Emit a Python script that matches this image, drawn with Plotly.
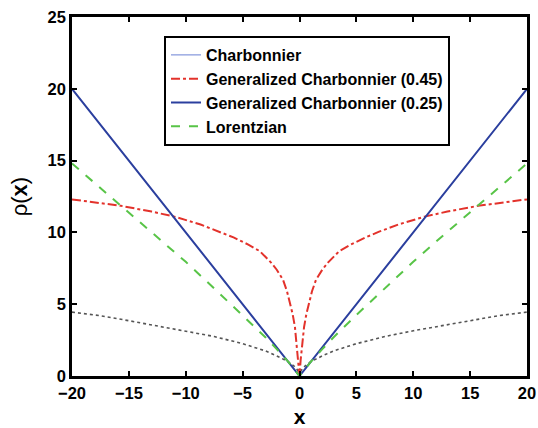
import plotly.graph_objects as go

# half-axis x positions and values (mirrored for negative side)
x_blue = [0, 20]
y_blue = [0, 20]

x_red = [0, 0.1, 0.25, 0.4, 0.6, 0.85, 1.1, 1.45, 2, 2.5, 3, 3.5, 4.5, 5.8, 7, 8.7, 11, 13, 15.7, 18, 20]
y_red = [0, 1.1, 2.3, 3.4, 4.3, 5.1, 5.9, 6.7, 7.4, 7.9, 8.3, 8.7, 9.15, 9.65, 10.05, 10.55, 11.1, 11.45, 11.85, 12.1, 12.3]

x_green = [0, 1, 2, 3, 5, 7.5, 10, 12.5, 15, 17.5, 20]
y_green = [0, 1.0, 1.87, 2.7, 4.25, 6.1, 7.95, 9.7, 11.4, 13.1, 14.8]

x_black = [0, 0.1, 0.25, 0.5, 1, 2, 3, 5, 7.5, 10, 12.5, 15, 17.5, 20]
y_black = [0, 0.3, 0.5, 0.7, 1.0, 1.4, 1.75, 2.25, 2.75, 3.15, 3.5, 3.85, 4.2, 4.45]

x_ticks = [-20, -15, -10, -5, 0, 5, 10, 15, 20]
y_ticks = [0, 5, 10, 15, 20, 25]


def mirror(xs, ys):
    xx = [-v for v in reversed(xs[1:])] + list(xs)
    yy = list(reversed(ys[1:])) + list(ys)
    return xx, yy


fig = go.Figure()
xb, yb = mirror(x_black, y_black)
fig.add_trace(go.Scatter(x=xb, y=yb, mode="lines", showlegend=False,
                         line=dict(color="#555555", width=1.6, dash="dot")))
xc, yc = mirror(x_blue, y_blue)
fig.add_trace(go.Scatter(x=xc, y=yc, mode="lines", name="Charbonnier",
                         line=dict(color="#6a80d4", width=1)))
xr, yr = mirror(x_red, y_red)
fig.add_trace(go.Scatter(x=xr, y=yr, mode="lines", name="Generalized Charbonnier (0.45)",
                         line=dict(color="#e3322b", width=2, dash="dashdot")))
fig.add_trace(go.Scatter(x=xc, y=yc, mode="lines", name="Generalized Charbonnier (0.25)",
                         line=dict(color="#2b3f9e", width=2)))
xg, yg = mirror(x_green, y_green)
fig.add_trace(go.Scatter(x=xg, y=yg, mode="lines", name="Lorentzian",
                         line=dict(color="#58c447", width=2, dash="dash")))

axis_common = dict(showline=True, linecolor="black", linewidth=2.5, mirror="ticks",
                   ticks="inside", ticklen=5, tickwidth=2, tickcolor="black",
                   showgrid=False, zeroline=False, automargin=False,
                   ticklabeloverflow="allow",
                   tickfont=dict(family="Liberation Sans", size=16.5, color="black", weight="bold"))

fig.update_layout(
    width=538, height=428,
    margin=dict(l=72, r=11, t=17, b=52),
    plot_bgcolor="white", paper_bgcolor="white",
    font=dict(family="Liberation Sans", color="black"),
    hovermode=False,
    xaxis=dict(range=[-20, 20], tickvals=x_ticks,
               ticktext=["\u221220", "\u221215", "\u221210", "\u22125", "0", "5", "10", "15", "20"],
               title=dict(text="<b>x</b>", font=dict(size=21), standoff=9),
               **axis_common),
    yaxis=dict(range=[0, 25], tickvals=y_ticks,
               title=dict(text="\u03c1(<b>x</b>)", font=dict(size=22), standoff=14),
               **axis_common),
    legend=dict(x=(164 - 72) / 455, y=(376 - 36) / 359, xanchor="left", yanchor="top",
                bordercolor="black", borderwidth=2, bgcolor="white",
                font=dict(family="Liberation Sans", size=16, color="black", weight="bold"),
                tracegroupgap=0),
)

# remove the default page margin so the 538x428 figure fills the window exactly
fig.write_html("out.html",
               config={"displayModeBar": False},
               post_script="document.body.style.margin='0';document.body.style.overflow='hidden';")
